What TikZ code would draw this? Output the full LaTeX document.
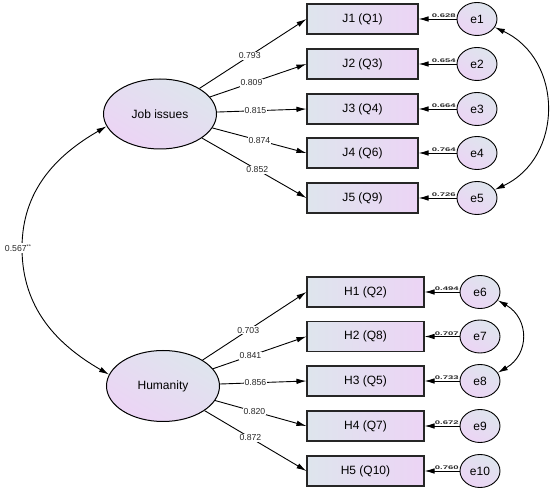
\documentclass[tikz,border=0pt]{standalone}
\usepackage{fontspec}
\setmainfont{Liberation Sans}
\usetikzlibrary{shapes.geometric,arrows.meta}
\definecolor{fillL}{RGB}{222,229,237}
\definecolor{fillR}{RGB}{236,212,245}
\definecolor{lab}{RGB}{40,40,40}
\tikzset{
  obs/.style={draw=black!85, line width=1.1pt, rectangle, minimum width=111pt, minimum height=30pt,
    left color=fillL, right color=fillR, font=\fontsize{12}{12}\selectfont, inner sep=0pt},
  lat/.style={draw=black, line width=1pt, ellipse, minimum width=113pt, minimum height=70pt,
    left color=fillL, right color=fillR, shading angle=-30, font=\fontsize{12}{12}\selectfont, inner sep=0pt},
  err/.style={draw=black, line width=0.9pt, ellipse, minimum width=40pt, minimum height=33pt,
    left color=fillL, right color=fillR, shading angle=-30, font=\fontsize{12}{12}\selectfont, inner sep=0pt},
  arr/.style={-{Latex[length=10pt,width=5.5pt]}, line width=0.9pt},
  biarr/.style={{Latex[length=10pt,width=5.5pt]}-{Latex[length=10pt,width=5.5pt]}, line width=0.9pt},
  load/.style={fill=white, inner sep=0.8pt, font=\fontsize{8.7}{8.7}\selectfont, text=lab},
  elab/.style={anchor=south east, inner sep=0.4pt, font=\fontsize{9.5}{9.5}\selectfont\bfseries, text=lab},
}
\newcommand{\flatlab}[1]{\scalebox{1}[0.55]{#1}}
\begin{document}
\begin{tikzpicture}[x=1pt,y=1pt]
\useasboundingbox (0,0) rectangle (557,492);
% latent
\node[lat] (JI) at (160,378) {Job issues};
\node[lat, minimum height=71pt] (HU) at (163,106) {Humanity};
% observed top
\node[obs] (J1) at (362.5,473) {J1 (Q1)};
\node[obs] (J2) at (362.5,428) {J2 (Q3)};
\node[obs] (J3) at (362.5,383) {J3 (Q4)};
\node[obs] (J4) at (362.5,339) {J4 (Q6)};
\node[obs] (J5) at (362.5,294) {J5 (Q9)};
% observed bottom
\node[obs, minimum width=117pt] (H1) at (365.5,200) {H1 (Q2)};
\node[obs, minimum width=117pt] (H2) at (365.5,155.5) {H2 (Q8)};
\node[obs, minimum width=117pt] (H3) at (365.5,111) {H3 (Q5)};
\node[obs, minimum width=117pt] (H4) at (365.5,66) {H4 (Q7)};
\node[obs, minimum width=117pt] (H5) at (365.5,21) {H5 (Q10)};
% errors
\node[err] (e1) at (477,473) {e1};
\node[err] (e2) at (477,428) {e2};
\node[err] (e3) at (477,383) {e3};
\node[err] (e4) at (477,339) {e4};
\node[err] (e5) at (477,294) {e5};
\node[err] (e6) at (480,200) {e6};
\node[err] (e7) at (480,155.5) {e7};
\node[err] (e8) at (480,111) {e8};
\node[err] (e9) at (480,66) {e9};
\node[err] (e10) at (480,21) {e10};
% loadings
\draw[arr] (JI) -- node[load, pos=0.47] {0.793} (J1.west);
\draw[arr] (JI) -- node[load, pos=0.43] {0.809} (J2.west);
\draw[arr] (JI) -- node[load, pos=0.43] {0.815} (J3.west);
\draw[arr] (JI) -- node[load, pos=0.50] {0.874} (J4.west);
\draw[arr] (JI) -- node[load, pos=0.53] {0.852} (J5.west);
\draw[arr] (HU) -- node[load, pos=0.44] {0.703} (H1.west);
\draw[arr] (HU) -- node[load, pos=0.40] {0.841} (H2.west);
\draw[arr] (HU) -- node[load, pos=0.41] {0.856} (H3.west);
\draw[arr] (HU) -- node[load, pos=0.43] {0.820} (H4.west);
\draw[arr] (HU) -- node[load, pos=0.45] {0.872} (H5.west);
% error paths
\foreach \e/\o/\v in {e1/J1/0.628, e2/J2/0.654, e3/J3/0.664, e4/J4/0.764, e5/J5/0.726,
                      e6/H1/0.494, e7/H2/0.707, e8/H3/0.733, e9/H4/0.672, e10/H5/0.760}{
  \draw[arr] (\e.west) -- (\o.east);
  \node[elab] at ([xshift=-0.3pt,yshift=0.6pt]\e.west) {\flatlab{\v}};
}
% covariances
\draw[biarr] (e1.-25) to[out=-25,in=25,looseness=1.2] (e5.25);
\draw[biarr] (e6.-25) to[out=-30,in=30,looseness=1.3] (e8.25);
\draw[biarr] (JI.193) to[out=210,in=90] (22,244) coordinate (cv) to[out=-90,in=150] (HU.168);
\node[load, inner sep=1.5pt] (cvl) at (18,244) {0.567\raisebox{0.6ex}{\fontsize{5.5}{5.5}\selectfont**}};
\end{tikzpicture}
\end{document}
